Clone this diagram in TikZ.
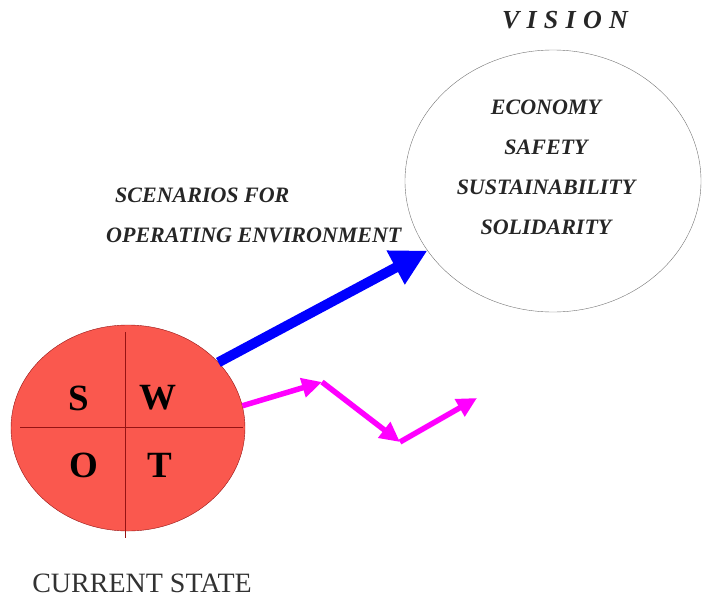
\documentclass[tikz,border=0pt]{standalone}
\usepackage{fontspec}
\setmainfont{Liberation Serif}
\usepackage{tikz}
\usetikzlibrary{shapes.geometric}
\usetikzlibrary{arrows.meta}
\definecolor{swotred}{RGB}{250,88,78}
\definecolor{swotline}{RGB}{150,20,20}
\definecolor{stategray}{RGB}{50,50,50}
\definecolor{routepink}{RGB}{255,0,255}
\definecolor{pathblue}{RGB}{0,0,255}

\begin{document}
\begin{tikzpicture}[x=1pt,y=-1pt,node distance=40pt,
  word/.style={font=\fontsize{22}{26}\selectfont\bfseries\itshape,text=black!85,inner sep=0pt},
  letter/.style={font=\fontsize{37}{40}\selectfont\bfseries,inner sep=0pt},
  route/.style={routepink,line width=5.5pt,-{Triangle[length=20pt,width=19pt]}}]

  \useasboundingbox (0,0) rectangle (702,600);

  % swot circle
  \node[ellipse,draw=swotline,fill=swotred,minimum width=234pt,minimum height=206pt,inner sep=0pt] (swot) at (128,428) {};
  \draw[swotline,thick] (125,332) -- (125,538);
  \draw[swotline,thick] (20,427) -- (243,427);
  \node[letter] (s) at (79,398) {S};
  \node[letter] (w) at (158,398) {W};
  \node[letter] (o) at (84,465) {O};
  \node[letter] (t) at (160,465) {T};
  \node[font=\fontsize{28}{32}\selectfont,text=stategray,inner sep=0pt] (state) at (142,583) {CURRENT STATE};

  % vision
  \node[ellipse,draw=black!55,minimum width=296pt,minimum height=262pt,inner sep=0pt] (vision) at (553,181) {};
  \node[word,font=\fontsize{26}{30}\selectfont\bfseries\itshape\addfontfeature{LetterSpace=28}] (title) at (565,20) {VISION};
  \node[word] (economy) at (546,107) {ECONOMY};
  \node[word] (safety) [below of=economy] {SAFETY};
  \node[word] (sustain) [below of=safety] {SUSTAINABILITY};
  \node[word] (solidarity) [below of=sustain] {SOLIDARITY};

  % scenarios
  \node[word,anchor=west] (scen) at (115,195) {SCENARIOS FOR};
  \node[word,anchor=west] (operating) at (106,235) {OPERATING ENVIRONMENT};

  \draw[pathblue,line width=10pt,-{Triangle[length=36pt,width=36pt]}] (swot.36) -- (vision.209);

  \coordinate (m1) at (322,382);
  \coordinate (m2) at (400,442);
  \coordinate (m3) at (477,398);
  \draw[route] (swot.11) -- (m1);
  \draw[route] (m1) -- (m2);
  \draw[route] (m2) -- (m3);
\end{tikzpicture}
\end{document}
